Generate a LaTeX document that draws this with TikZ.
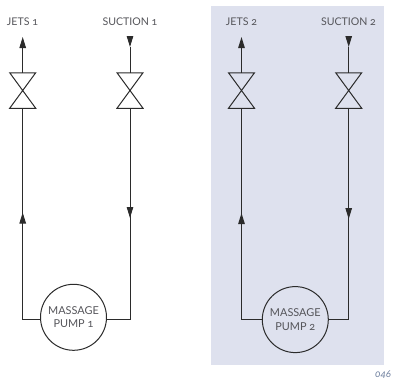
\documentclass[tikz,border=0pt]{standalone}
\usepackage{fontspec}
\setmainfont[Numbers=OldStyle]{Lato}
\usetikzlibrary{arrows.meta}
\definecolor{panel}{HTML}{DEE1EE}
\definecolor{ink}{HTML}{2B2B2B}
\definecolor{txt}{HTML}{55555A}
\definecolor{codec}{HTML}{6E7F9E}
\tikzset{
  pipe/.style={draw=ink,line width=1pt},
  flow/.style={pipe,-{Triangle[length=11pt,width=6.5pt]}},
  valve/.style={minimum width=26pt,minimum height=35.5pt,inner sep=0pt,outer sep=0pt},
  pump/.style={circle,draw=ink,line width=1pt,minimum size=66pt,inner sep=0pt,align=center,font=\fontsize{10.9}{13.2}\selectfont,text=txt},
  lab/.style={font=\fontsize{10.6}{12}\selectfont,text=txt,inner sep=0pt},
}
\newcommand{\valveshape}[1]{\draw[pipe,line join=miter] (#1.north west)--(#1.north east)--(#1.south west)--(#1.south east)--cycle;}
\begin{document}
\begin{tikzpicture}[x=1pt,y=-1pt]
\useasboundingbox (0,0) rectangle (393,380);
\fill[panel] (211,6) rectangle (384,365);
% labels
\node[lab] (j1) at (22.5,21.5) {JETS 1};
\node[lab] (s1) at (130,21.5) {SUCTION 1};
\node[lab] (j2) at (241.5,21.5) {JETS 2};
\node[lab] (s2) at (348.5,21.5) {SUCTION 2};
% valves
\node[valve] (v1) at (22.7,90.5) {};
\node[valve] (v2) at (130,90.5) {};
\node[valve] (v3) at (241.5,90.5) {};
\node[valve] (v4) at (348.7,90.5) {};
\valveshape{v1}\valveshape{v2}\valveshape{v3}\valveshape{v4}
% pumps
\node[pump] (p1) at (73.5,317.3) {MASSAGE\\PUMP 1};
\node[pump] (p2) at (295.3,319.6) {MASSAGE\\PUMP 2};
% end points
\coordinate (t1) at (22.7,37);
\coordinate (t2) at (130,47);
\coordinate (t2s) at (130,36);
\coordinate (t3) at (241.5,37);
\coordinate (t4) at (348.7,47);
\coordinate (t4s) at (348.7,36);
\coordinate (a1) at (22.7,212.5);
\coordinate (a2) at (130,218);
\coordinate (a3) at (241.5,213);
\coordinate (a4) at (348.7,219);
\coordinate (c1) at (22.7,319.3);
\coordinate (c2) at (130,319.3);
\coordinate (c3) at (241.5,319.3);
\coordinate (c4) at (348.7,319.3);
% top arrows and valve stems
\draw[flow] (v1.north) -- (t1);
\draw[flow] (t2s) -- (t2);
\draw[pipe] (t2) -- (v2.north);
\draw[flow] (v3.north) -- (t3);
\draw[flow] (t4s) -- (t4);
\draw[pipe] (t4) -- (v4.north);
% loops
\draw[pipe] (p1.west |- c1) -- (c1) -- (v1.south);
\draw[flow] (c1) -- (a1);
\draw[pipe] (v2.south) -- (c2) -- (p1.east |- c2);
\draw[flow] (v2.south) -- (a2);
\draw[pipe] (p2.west |- c3) -- (c3) -- (v3.south);
\draw[flow] (c3) -- (a3);
\draw[pipe] (v4.south) -- (c4) -- (p2.east |- c4);
\draw[flow] (v4.south) -- (a4);
\node[font=\fontsize{10}{12}\itshape\selectfont,text=codec,inner sep=0pt] (code) at (383,375) {046};
\end{tikzpicture}
\end{document}
